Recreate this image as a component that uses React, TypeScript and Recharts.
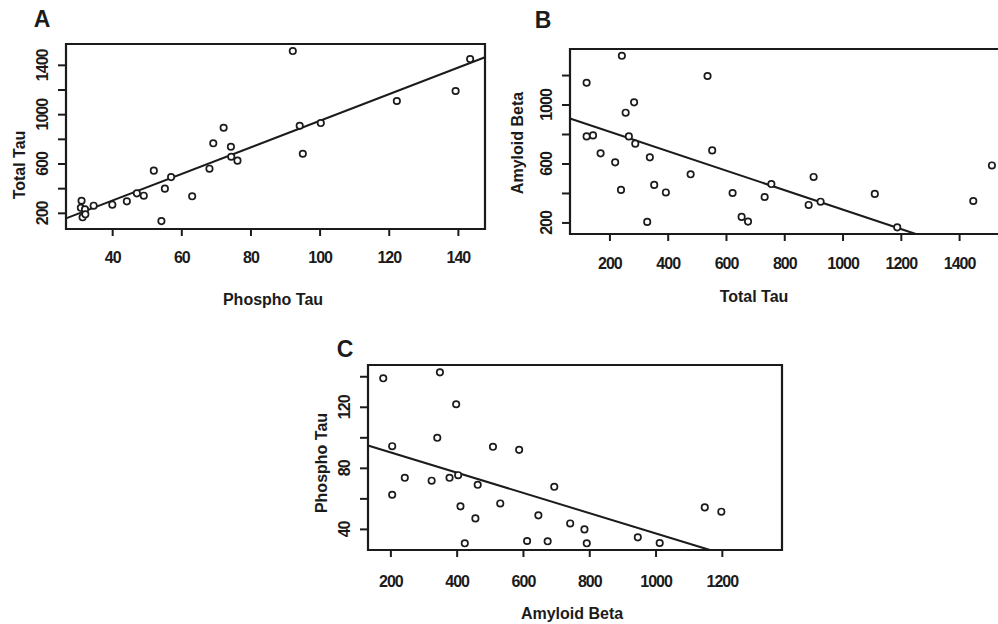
import React from "react";
import { ReferenceArea, ReferenceLine, Scatter, ScatterChart, XAxis, YAxis } from "recharts";

// Panel A: phospho tau (x) vs total tau (y)
const phosphoA = [31.0, 30.8, 32.0, 31.3, 32.1, 34.5, 39.9, 44.1, 47.0, 49.0, 51.9, 55.1, 54.1, 56.9, 63.0, 68.0, 69.1, 72.1, 74.2, 74.3, 76.1, 92.1, 94.1, 95.0, 100.2, 122.2, 139.2, 143.4];
const totalA = [302, 245, 232, 168, 192, 262, 270, 297, 362, 343, 546, 400, 137, 494, 338, 562, 768, 894, 740, 659, 627, 1516, 910, 683, 932, 1111, 1192, 1451];

// Panel B: total tau (x) vs amyloid beta (y)
const totalB = [120, 241, 120, 142, 168, 218, 238, 254, 265, 283, 287, 328, 337, 352, 392, 477, 535, 551, 621, 652, 674, 731, 754, 882, 899, 923, 1109, 1186, 1447, 1511];
const amyloidB = [1151, 1334, 787, 794, 672, 611, 424, 948, 787, 1018, 738, 207, 645, 458, 407, 530, 1197, 692, 403, 241, 209, 376, 464, 322, 512, 344, 397, 170, 349, 590];

// Panel C: amyloid beta (x) vs phospho tau (y)
const amyloidC = [177, 348, 204, 340, 397, 204, 242, 323, 377, 403, 410, 455, 462, 423, 508, 530, 587, 611, 693, 645, 673, 741, 784, 791, 945, 1011, 1147, 1197];
const phosphoC = [139.0, 142.9, 94.5, 100.0, 122.0, 62.7, 73.8, 71.9, 73.8, 75.5, 55.1, 47.2, 69.2, 30.9, 94.1, 57.0, 92.1, 32.4, 67.9, 49.2, 32.2, 43.9, 40.0, 30.9, 34.8, 31.1, 54.4, 51.6];

// fitted lines (intercept, slope)
const fitA = [-126.6, 10.78];
const fitB = [950, -0.66];
const fitC = [103.7, -0.0664];

// axis ranges and ticks
const phosphoRange = [26.5, 147.7];
const totalRange = [73, 1573];
const totalRangeB = [63, 1573];
const amyloidRange = [125, 1380];
const amyloidRangeC = [131, 1380];

const phosphoTicksA = [40, 60, 80, 100, 120, 140];
const totalTicksA = [200, 400, 600, 800, 1000, 1200, 1400];
const totalLabelsA = [200, 600, 1000, 1400];
const totalTicksB = [200, 400, 600, 800, 1000, 1200, 1400];
const amyloidTicksB = [200, 400, 600, 800, 1000, 1200];
const amyloidLabelsB = [200, 600, 1000];
const amyloidTicksC = [200, 400, 600, 800, 1000, 1200];
const phosphoTicksC = [40, 60, 80, 100, 120, 140];
const phosphoLabelsC = [40, 80, 120];

const INK = "#1b1b1b";
const FONT = '"Liberation Sans", Arial, sans-serif';

const toRows = (xs: number[], ys: number[]) => xs.map((x, i) => ({ x, y: ys[i] }));

// keep the fitted line inside the plot box
function fitSegment(fit: number[], xd: number[], yd: number[]) {
  const [a, b] = fit;
  return xd.map((x) => {
    const y = a + b * x;
    if (y < yd[0]) return { x: (yd[0] - a) / b, y: yd[0] };
    if (y > yd[1]) return { x: (yd[1] - a) / b, y: yd[1] };
    return { x, y };
  });
}

const Ring = (props: any) => (
  <circle cx={props.cx} cy={props.cy} r={3.2} fill="#fff" stroke={INK} strokeWidth={1.7} />
);

const tickText = { fontFamily: FONT, fontSize: 16, fontWeight: 700, letterSpacing: -1, fill: INK };

const XTick = (dy: number) => (props: any) => (
  <text x={props.x} y={props.y + dy} textAnchor="middle" dominantBaseline="central" style={tickText}>
    {props.payload.value}
  </text>
);

const YTick = (labels: number[], dx: number) => (props: any) =>
  labels.includes(props.payload.value) ? (
    <text
      transform={`translate(${props.x + dx},${props.y}) rotate(-90)`}
      textAnchor="middle"
      dominantBaseline="central"
      style={tickText}
    >
      {props.payload.value}
    </text>
  ) : (
    <g />
  );

type PanelProps = {
  left: number;
  top: number;
  width: number;
  height: number;
  marginTop: number;
  rows: { x: number; y: number }[];
  xDomain: number[];
  yDomain: number[];
  xTicks: number[];
  yTicks: number[];
  yLabels: number[];
  fit: number[];
  xDy: number;
};

function Panel(p: PanelProps) {
  const seg = fitSegment(p.fit, p.xDomain, p.yDomain);
  return (
    <div style={{ position: "absolute", left: p.left, top: p.top }}>
      <ScatterChart width={p.width} height={p.height} margin={{ top: p.marginTop, right: 10, bottom: 0, left: 0 }}>
        <XAxis
          type="number"
          dataKey="x"
          domain={p.xDomain}
          ticks={p.xTicks}
          interval={0}
          allowDataOverflow
          height={80}
          axisLine={false}
          tickSize={7}
          tickMargin={0}
          tickLine={{ stroke: INK, strokeWidth: 2 }}
          tick={XTick(p.xDy)}
        />
        <YAxis
          type="number"
          dataKey="y"
          domain={p.yDomain}
          ticks={p.yTicks}
          interval={0}
          allowDataOverflow
          width={66}
          axisLine={false}
          tickSize={8}
          tickMargin={0}
          tickLine={{ stroke: INK, strokeWidth: 2 }}
          tick={YTick(p.yLabels, -16)}
        />
        <ReferenceArea
          x1={p.xDomain[0]}
          x2={p.xDomain[1]}
          y1={p.yDomain[0]}
          y2={p.yDomain[1]}
          fill="none"
          stroke={INK}
          strokeWidth={2.2}
          ifOverflow="visible"
        />
        <ReferenceLine segment={seg} stroke={INK} strokeWidth={2} ifOverflow="visible" />
        <Scatter data={p.rows} shape={Ring} isAnimationActive={false} />
      </ScatterChart>
    </div>
  );
}

const Txt = ({ x, y, text, size, vertical }: { x: number; y: number; text: string; size: number; vertical?: boolean }) => (
  <div
    style={{
      position: "absolute",
      left: x,
      top: y,
      transform: `translate(-50%, -50%)${vertical ? " rotate(-90deg)" : ""}`,
      fontFamily: FONT,
      fontWeight: 700,
      fontSize: size,
      color: INK,
      whiteSpace: "nowrap",
      lineHeight: 1,
    }}
  >
    {text}
  </div>
);

export default function App() {
  return (
    <div style={{ position: "absolute", left: 0, top: 0, width: 998, height: 624, overflow: "hidden", background: "#fff" }}>
      <Panel
        left={0}
        top={0}
        width={495}
        height={309}
        marginTop={44}
        rows={toRows(phosphoA, totalA)}
        xDomain={phosphoRange}
        yDomain={totalRange}
        xTicks={phosphoTicksA}
        yTicks={totalTicksA}
        yLabels={totalLabelsA}
        fit={fitA}
        xDy={21}
      />
      <Panel
        left={504}
        top={0}
        width={516}
        height={314}
        marginTop={49}
        rows={toRows(totalB, amyloidB)}
        xDomain={totalRangeB}
        yDomain={amyloidRange}
        xTicks={totalTicksB}
        yTicks={amyloidTicksB}
        yLabels={amyloidLabelsB}
        fit={fitB}
        xDy={22}
      />
      <Panel
        left={302}
        top={320}
        width={490}
        height={310}
        marginTop={45}
        rows={toRows(amyloidC, phosphoC)}
        xDomain={amyloidRangeC}
        yDomain={phosphoRange}
        xTicks={amyloidTicksC}
        yTicks={phosphoTicksC}
        yLabels={phosphoLabelsC}
        fit={fitC}
        xDy={24}
      />

      <Txt x={42} y={19} text="A" size={23} />
      <Txt x={273} y={300} text="Phospho Tau" size={16} />
      <Txt x={20} y={165} text="Total Tau" size={16} vertical />

      <Txt x={543} y={20} text="B" size={23} />
      <Txt x={754} y={297} text="Total Tau" size={16} />
      <Txt x={518} y={143} text="Amyloid Beta" size={16} vertical />

      <Txt x={345} y={349} text="C" size={23} />
      <Txt x={572} y={614} text="Amyloid Beta" size={16} />
      <Txt x={322} y={463} text="Phospho Tau" size={16} vertical />
    </div>
  );
}
